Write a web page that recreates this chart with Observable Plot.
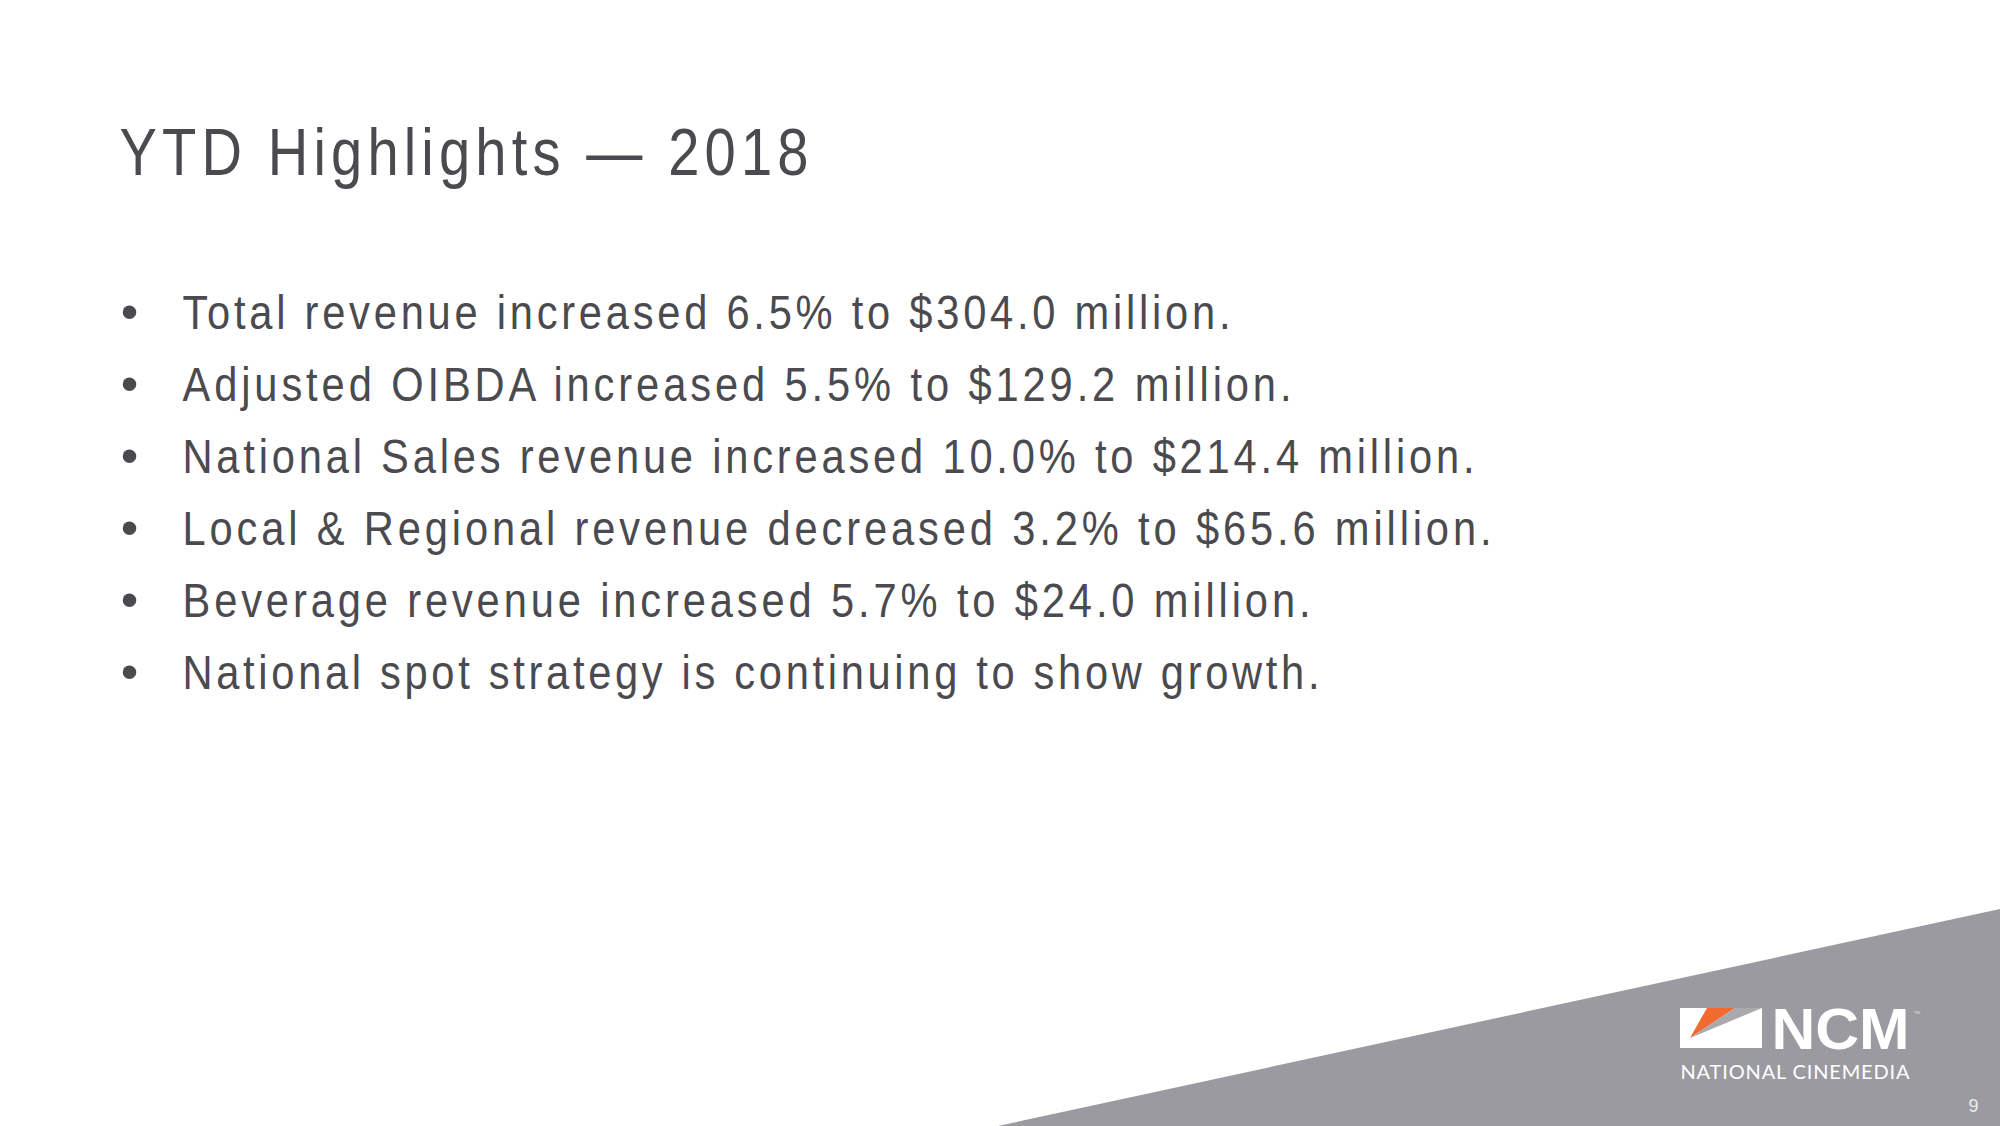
<!DOCTYPE html>
<html>
<head>
<meta charset="utf-8">
<script src="https://cdn.jsdelivr.net/npm/d3@7"></script>
<script src="https://cdn.jsdelivr.net/npm/@observablehq/plot@0.6"></script>
<style>
  html, body { margin: 0; padding: 0; background: #ffffff; }
  #chart svg { display: block; }
</style>
</head>
<body>
<div id="chart"></div>
<script>
// ---- content ----
const title = "YTD Highlights — 2018";
const bullets = [
  "Total revenue increased 6.5% to $304.0 million.",
  "Adjusted OIBDA increased 5.5% to $129.2 million.",
  "National Sales revenue increased 10.0% to $214.4 million.",
  "Local & Regional revenue decreased 3.2% to $65.6 million.",
  "Beverage revenue increased 5.7% to $24.0 million.",
  "National spot strategy is continuing to show growth."
];
const logoWord = "NCM";
const logoTagline = "NATIONAL CINEMEDIA";
const pageNumber = "9";

// ---- layout (page pixel coordinates) ----
const W = 2000, H = 1126;
const textColor = "#4a4a4f";
const slabColor = "#9b9aa0";
const sans = "'Liberation Sans', Arial, sans-serif";
const slab = [{x: 998, y1: H, y2: H}, {x: W, y1: 909, y2: H}];
const logoBox = [{x1: 1680, x2: 1762, y1: 1008, y2: 1048}];
const orangeWedge = [{y: 1008, x1: 1707, x2: 1735}, {y: 1038, x1: 1690, x2: 1690}];
const greyWedge = [{y: 1008, x1: 1735, x2: 1762}, {y: 1038, x1: 1690, x2: 1690}];

const titleX = 119, bulletX = 182;
const firstBaseline = 328, lineStep = 72;
const lineWidths = [1048, 1109, 1292, 1309, 1128, 1137];   // measured run lengths of the lines
const bulletRows = bullets.map((t, i) => ({text: t, y: firstBaseline + i * lineStep, w: lineWidths[i]}));

const chart = Plot.plot({
  width: W,
  height: H,
  margin: 0,
  style: {background: "#ffffff", overflow: "visible"},
  x: {domain: [0, W], range: [0, W], axis: null},
  y: {domain: [0, H], range: [0, H], axis: null},
  marks: [
    Plot.area(slab, {x1: "x", y1: "y1", y2: "y2", fill: slabColor}),
    Plot.rect(logoBox, {x1: "x1", x2: "x2", y1: "y1", y2: "y2", fill: "#ffffff"}),
    Plot.area(orangeWedge, {y1: "y", x1: "x1", x2: "x2", fill: "#f26a2e"}),
    Plot.area(greyWedge, {y1: "y", x1: "x1", x2: "x2", fill: "#aaa9ae"}),
    Plot.text([logoWord], {x: 1771, y: 1048, text: d => d, textAnchor: "start", lineAnchor: "bottom",
      fontSize: 57, fontWeight: "bold", fill: "#ffffff", fontFamily: sans, className: "logo-word"}),
    Plot.text(["™"], {x: 1913, y: 1015, text: d => d, textAnchor: "start", lineAnchor: "bottom",
      fontSize: 7, fill: "#d8d8da", fontFamily: sans}),
    Plot.text([logoTagline], {x: 1680, y: 1078, text: d => d, textAnchor: "start", lineAnchor: "bottom",
      fontSize: 20, fontWeight: 400, fill: "#ffffff", fontFamily: "Lato, Open Sans, sans-serif", className: "logo-tag"}),
    Plot.text([pageNumber], {x: 1973, y: 1111, text: d => d, textAnchor: "middle", lineAnchor: "bottom",
      fontSize: 18, fill: "#ececee", fontFamily: sans}),
    Plot.text([title], {x: titleX, y: 174, text: d => d, textAnchor: "start", lineAnchor: "bottom",
      fontSize: 66, fill: textColor, fontFamily: sans, className: "slide-title"}),
    Plot.text(bulletRows, {x: 129, y: "y", text: () => "•", textAnchor: "middle", lineAnchor: "bottom",
      fontSize: 50, fill: textColor, fontFamily: sans}),
    Plot.text(bulletRows, {x: bulletX, y: "y", text: "text", textAnchor: "start", lineAnchor: "bottom",
      fontSize: 49, fill: textColor, fontFamily: sans, className: "bullet-text"})
  ]
});
document.getElementById("chart").appendChild(chart);

// fit each run to the measured width of the original
function fit(cls, targets, adjust) {
  d3.select(chart).selectAll("." + cls + " text").each(function(_, i) {
    const t = Array.isArray(targets) ? targets[i] : targets;
    this.setAttribute("textLength", t);
    this.setAttribute("lengthAdjust", adjust);
  });
}
// the original slide text uses narrowed glyphs with open letter spacing:
// squeeze the glyphs horizontally about the run start, then re-open the spacing
function condense(cls, x0, k, targets) {
  d3.select(chart).selectAll("." + cls + " text").each(function(_, i) {
    const t = Array.isArray(targets) ? targets[i] : targets;
    const prev = this.getAttribute("transform") || "";
    this.setAttribute("transform", `translate(${x0},0) scale(${k},1) translate(${-x0},0) ${prev}`);
    this.setAttribute("textLength", t / k);
    this.setAttribute("lengthAdjust", "spacing");
  });
}
fit("logo-word", 138, "spacingAndGlyphs");
fit("logo-tag", 229, "spacing");
condense("slide-title", titleX, 0.85, 689);
condense("bullet-text", bulletX, 0.85, lineWidths);
</script>
</body>
</html>
